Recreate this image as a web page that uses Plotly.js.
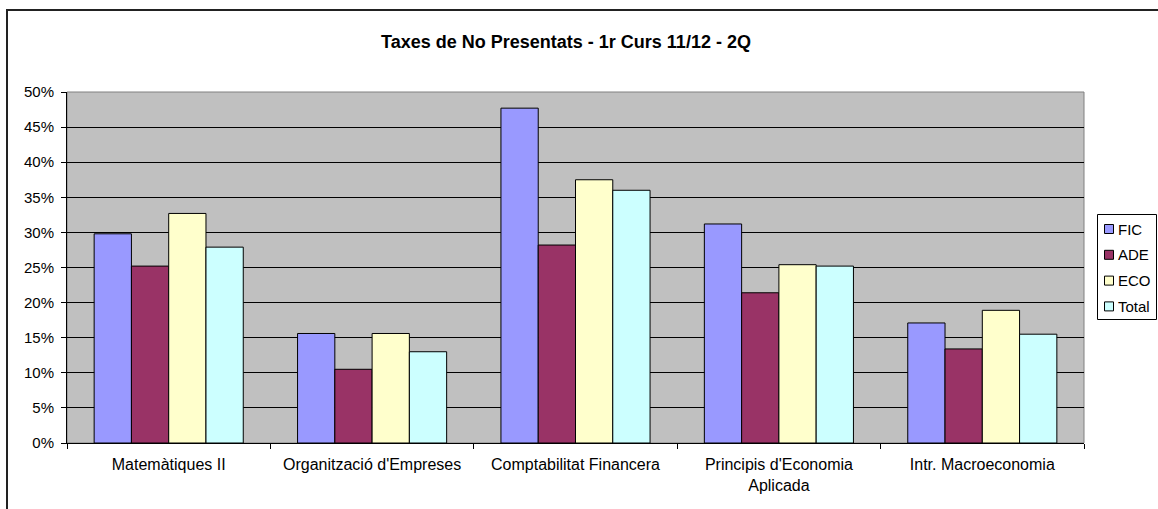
<!DOCTYPE html>
<html>
<head>
<meta charset="utf-8">
<script src="https://cdn.plot.ly/plotly-3.0.1.min.js"></script>
<style>
  html, body { margin: 0; padding: 0; background: #fff; }
  #wrap { position: relative; width: 1158px; height: 509px; overflow: hidden; }
  #frame { position: absolute; left: 6px; top: 9px; width: 1200px; height: 600px;
           border-left: 2px solid #222; border-top: 2px solid #222; pointer-events: none; z-index: 5; }
  #chart { position: absolute; left: 0; top: 0; width: 1158px; height: 509px; }
</style>
</head>
<body>
<div id="wrap">
  <div id="chart"></div>
  <div id="frame"></div>
</div>
<script>
const categories = [
  "Matemàtiques II",
  "Organització d'Empreses",
  "Comptabilitat Financera",
  "Principis d'Economia<br>Aplicada",
  "Intr. Macroeconomia"
];
const seriesNames = ["FIC", "ADE", "ECO", "Total"];
const fic   = [0.298, 0.156, 0.477, 0.312, 0.171];
const ade   = [0.252, 0.105, 0.282, 0.214, 0.134];
const eco   = [0.327, 0.156, 0.375, 0.254, 0.189];
const total = [0.279, 0.130, 0.360, 0.252, 0.155];
const colors = ["#9999FF", "#993366", "#FFFFCC", "#CCFFFF"];

const values = [fic, ade, eco, total];
const traces = values.map((v, i) => ({
  type: "bar",
  name: seriesNames[i],
  x: categories,
  y: v,
  showlegend: false,
  marker: { color: colors[i], line: { color: "#000", width: 1 } }
}));

// plot area geometry (pixels) for converting legend placement to paper coords
const W = 1158, H = 509;
const M = { l: 67, r: 74, t: 92, b: 66 };
const pw = W - M.l - M.r, ph = H - M.t - M.b;
const px = x => (x - M.l) / pw;
const py = y => (H - M.b - y) / ph;

const FONT = "Liberation Sans, Arial, sans-serif";

// custom legend (box, swatches, labels)
const shapes = [
  { type: "rect", xref: "paper", yref: "paper", x0: 0, x1: 1, y0: 0, y1: 1,
    line: { color: "#808080", width: 1 }, fillcolor: "rgba(0,0,0,0)", layer: "below" },
  { type: "rect", xref: "paper", yref: "paper", x0: px(1097.5), x1: px(1156.5), y0: py(319.5), y1: py(214.5),
    line: { color: "#000", width: 1 }, fillcolor: "#fff" }
];
const annotations = [];
const legTop = 229, legStep = 25.8;
seriesNames.forEach((n, i) => {
  const cy = legTop + i * legStep;
  shapes.push({ type: "rect", xref: "paper", yref: "paper",
    x0: px(1104.5), x1: px(1113.5), y0: py(cy + 4.5), y1: py(cy - 4.5),
    line: { color: "#000", width: 1 }, fillcolor: colors[i] });
  annotations.push({ xref: "paper", yref: "paper", x: px(1116), y: py(cy),
    xanchor: "left", yanchor: "middle", text: n, showarrow: false,
    font: { family: FONT, size: 15, color: "#000" } });
});

const layout = {
  width: W,
  height: H,
  margin: { l: M.l, r: M.r, t: M.t, b: M.b, pad: 0 },
  paper_bgcolor: "#ffffff",
  plot_bgcolor: "#C0C0C0",
  font: { family: FONT, size: 15, color: "#000" },
  showlegend: false,
  title: {
    text: "<b>Taxes de No Presentats - 1r Curs 11/12 - 2Q</b>",
    font: { family: FONT, size: 18, color: "#000" },
    x: 566 / W, xanchor: "center", xref: "container",
    y: 1 - 42 / H, yanchor: "middle", yref: "container"
  },
  barmode: "group",
  bargap: 0.267,
  bargroupgap: 0,
  xaxis: {
    type: "category",
    showline: true, linecolor: "#000", linewidth: 1,
    ticks: "outside", tickson: "boundaries", ticklen: 5, tickcolor: "#000",
    tickfont: { size: 16 },
    showgrid: false,
    ticklabelstandoff: 7
  },
  yaxis: {
    range: [0, 0.5],
    dtick: 0.05,
    tick0: 0,
    tickformat: ".0%",
    showline: true, linecolor: "#000", linewidth: 1,
    ticks: "outside", ticklen: 5, tickcolor: "#000",
    tickfont: { size: 15 },
    showgrid: true, gridcolor: "#000", gridwidth: 1,
    zeroline: false,
    ticklabelstandoff: 4
  },
  shapes: shapes,
  annotations: annotations
};

Plotly.newPlot("chart", traces, layout, { displayModeBar: false, staticPlot: true });
</script>
</body>
</html>
